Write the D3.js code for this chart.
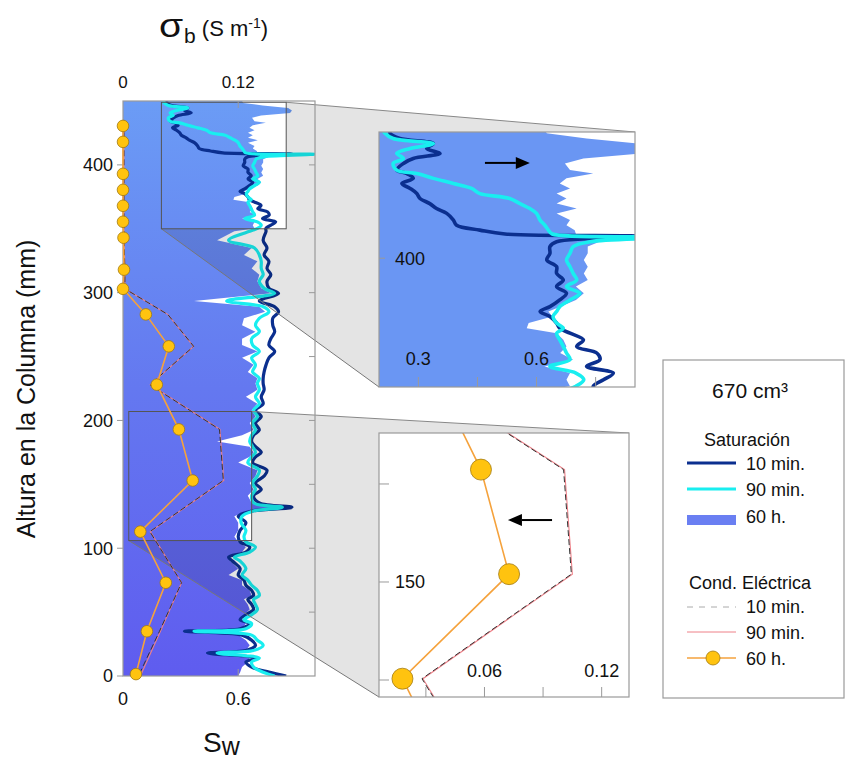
<!DOCTYPE html>
<html>
<head>
<meta charset="utf-8">
<script src="https://cdn.jsdelivr.net/npm/d3@7"></script>
<style>
  body { margin: 0; background: #fff; }
  svg { display: block; }
</style>
</head>
<body>
<svg id="chart" width="845" height="763"></svg>
<script>
// ---- Saturation profiles (depth in mm, Sw fraction) ----
const depthMm = [0,3,7,11,14,18,20,24,28,32,35,37,41,44,48,52,56,60,63,67,71,75,79,84,90,93,97,101,105,109,
  114,120,125,129,132,135.5,141,146,151,156.5,161,167,171.5,175,179.5,183.5,188.5,192.5,198,203,208,213,218.5,224,229,
  233,238,243.5,249,254,259,264,269.5,274.5,280,285,289,293.5,299.5,303.5,309,314,319,324.5,329.5,335,341,348,
  350.3,352.8,355.4,358,360.6,363.2,365.7,368.3,370.9,372.8,374.8,377.4,379.3,381.2,383.8,386.4,389,391.5,394.1,396.7,
  399.3,401.9,404.5,406.4,408.4,409.4,410.9,412.8,414.8,417.4,419.3,421.2,423.2,425.1,427.1,429,431,432.9,434.2,436.8,
  438.7,440.7,442.6,444.5,446.5,448.5,450];

const sw10min = [.85,.76,.67,.64,.69,.44,.64,.69,.67,.62,.32,.61,.66,.61,.64,.68,.67,.65,.68,.67,.64,.63,.60,.61,.57,.55,.64,.66,.61,.60,
  .61,.64,.60,.67,.88,.71,.68,.72,.69,.735,.75,.675,.69,.72,.69,.67,.68,.71,.69,.72,.69,.73,.72,.735,.73,
  .73,.735,.745,.76,.79,.76,.77,.79,.78,.78,.81,.79,.71,.81,.76,.75,.77,.75,.76,.735,.75,.73,.745,
  .744,.77,.795,.727,.761,.753,.702,.719,.685,.659,.651,.634,.609,.634,.659,.676,.651,.668,.651,.651,
  .626,.634,.634,.651,.88,.52,.456,.397,.389,.372,.346,.329,.304,.296,.279,.258,.287,.27,.245,.262,
  .287,.355,.321,.338,.253,.228,.23];

const sw90min = [.79,.73,.68,.67,.71,.49,.68,.73,.70,.67,.37,.64,.67,.63,.67,.70,.69,.68,.71,.70,.67,.65,.62,.64,.61,.58,.66,.69,.64,.63,
  .64,.615,.62,.675,.83,.68,.67,.69,.675,.70,.71,.65,.67,.69,.675,.66,.67,.69,.675,.70,.68,.71,.69,.71,.70,
  .71,.675,.69,.67,.71,.675,.67,.71,.69,.71,.76,.73,.54,.79,.735,.71,.73,.72,.72,.71,.685,.55,.66,
  .70,.72,.70,.634,.685,.676,.668,.659,.651,.668,.651,.642,.651,.659,.685,.71,.676,.702,.693,.685,
  .676,.685,.693,.736,1.0,.64,.63,.621,.609,.60,.583,.558,.532,.456,.435,.389,.338,.296,.245,.236,
  .262,.245,.279,.338,.236,.215,.21];

const sw60h = [.60,.61,.62,.65,.66,.44,.64,.66,.64,.60,.32,.62,.64,.61,.63,.66,.65,.63,.67,.66,.62,.62,.55,.60,.56,.55,.62,.64,.60,.58,
  .60,.60,.58,.64,.80,.67,.65,.68,.66,.69,.70,.60,.66,.68,.66,.49,.62,.68,.66,.69,.67,.70,.64,.70,.69,
  .70,.65,.68,.62,.70,.62,.62,.69,.62,.63,.74,.71,.37,.77,.72,.70,.71,.67,.70,.63,.67,.49,.58,
  .685,.676,.685,.62,.693,.66,.676,.668,.651,.575,.58,.64,.63,.66,.70,.72,.70,.73,.72,.73,
  .72,.73,.73,.76,.80,.70,.697,.676,.685,.651,.702,.651,.676,.651,.685,.659,.676,.744,.685,.672,
  .719,.87,.88,.86,.727,.626,.62];

// ---- Bulk electrical conductivity (depth in mm, sigma_b in S/m) ----
const ecDepthMm = [1.5,35,73,113,153,193,228,258,283,303,318,343,355.5,368,380.5,393,418,430.5];
const ec10min = [0.017,0.038,0.061,0.028,0.1045,0.1005,0.028,0.0736,0.0466,0.002,0.002,0.001,0.001,0.001,0.001,0.001,0.001,0.001];
const ec90min = [0.019,0.039,0.061,0.0285,0.105,0.101,0.0285,0.0735,0.0466,0.002,0.002,0.001,0.001,0.001,0.001,0.001,0.001,0.001];
const ec60h   = [0.0135,0.0249,0.0446,0.018,0.0726,0.0582,0.0352,0.0477,0.0238,0,0.001,0.0005,0,0,0,0,0,0];

// ---- Axis ticks ----
const depthTicks = [0,100,200,300,400];
const depthMinorTicks = [50,100,150,200,250,300,350,400];
const swTicks = [0,0.6];
const ecTicks = [0,0.12];
const zoomSatDepthTicks = [400];
const zoomSatSwTicks = [0.3,0.45,0.6,0.75];
const zoomSatSwLabels = [0.3,0.6];
const zoomEcDepthTicks = [112.5,150,187.5];
const zoomEcDepthLabels = [150];
const zoomEcTicks = [0.03,0.06,0.09,0.12];
const zoomEcLabels = [0.06,0.12];

// trend arrows inside the zoom panels (depth, from, to)
const satArrow = [437, 0.469, 0.583];
const ecArrow = [173.7, 0.0946, 0.072];

const FONT = "'Liberation Sans', Arial, Helvetica, sans-serif";
const NAVY = "#0b2f8f", CYAN = "#19eef0", PINK = "#ee8088", DASH = "#333", ORANGE = "#f5a23c", GOLD = "#ffc30f";

const svg = d3.select("#chart").attr("font-family", FONT);
const defs = svg.append("defs");

// ---- panel geometry ----
const M = {left:123, right:315, top:101, bottom:676};
const y = d3.scaleLinear().domain([0,450]).range([M.bottom, M.top]);
const xSw = d3.scaleLinear().domain([0,1]).range([M.left, M.right]);
const xEc = d3.scaleLinear().domain([0,0.2]).range([M.left, M.right]);

const Z1 = {left:379, right:635, top:132, bottom:387};
const z1x = d3.scaleLinear().domain([0.2,0.85]).range([Z1.left, Z1.right]);
const z1y = d3.scaleLinear().domain([350,449]).range([Z1.bottom, Z1.top]);

const Z2 = {left:379, right:629, top:433, bottom:697};
const z2x = d3.scaleLinear().domain([0.006,0.134]).range([Z2.left, Z2.right]);
const z2y = d3.scaleLinear().domain([106,207]).range([Z2.bottom, Z2.top]);

// gradient for the 60 h saturation fill
const grad = defs.append("linearGradient").attr("id","fill60")
  .attr("gradientUnits","userSpaceOnUse").attr("x1",0).attr("x2",0)
  .attr("y1",M.top).attr("y2",M.bottom);
grad.append("stop").attr("offset",0).attr("stop-color","#6b9cf5");
grad.append("stop").attr("offset",0.5).attr("stop-color","#6478f0");
grad.append("stop").attr("offset",1).attr("stop-color","#5f5cef");

function clip(id, r) {
  defs.append("clipPath").attr("id", id).append("rect")
    .attr("x", r.left).attr("y", r.top).attr("width", r.right - r.left).attr("height", r.bottom - r.top);
}
clip("clipMain", M); clip("clipZ1", Z1); clip("clipZ2", Z2);

const satRows = depthMm.map((d,i) => ({d, s10: sw10min[i], s90: sw90min[i], s60: sw60h[i]}));
const ecRows = ecDepthMm.map((d,i) => ({d, e10: ec10min[i], e90: ec90min[i], e60: ec60h[i]}));

const satLine = (xs, ys, key) => d3.line().x(r => xs(r[key])).y(r => ys(r.d)).curve(d3.curveCatmullRom.alpha(0.5));
const satArea = (xs, ys) => d3.area().y(r => ys(r.d)).x0(xs.range()[0]).x1(r => xs(r.s60));
const ecLine = (xs, ys, key) => d3.line().x(r => xs(r[key])).y(r => ys(r.d));

// ---- main panel: 60 h fill ----
const gMain = svg.append("g");
gMain.append("path").datum(satRows).attr("clip-path","url(#clipMain)")
  .attr("d", satArea(xSw, y)).attr("fill","url(#fill60)");

// ---- zoom funnels ----
function funnel(sx0, sx1, sy0, sy1, Z) {
  const pts = [[sx1, sy0],[Z.right, Z.top],[Z.right, Z.bottom],[Z.left, Z.bottom],[sx0, sy1],[sx1, sy1]];
  svg.append("polygon").attr("points", pts.map(p => p.join(",")).join(" "))
    .attr("fill","rgba(0,0,0,0.105)");
  svg.append("line").attr("x1",sx1).attr("y1",sy0).attr("x2",Z.right).attr("y2",Z.top).attr("stroke","#888").attr("stroke-width",1);
  svg.append("line").attr("x1",sx0).attr("y1",sy1).attr("x2",Z.left).attr("y2",Z.bottom).attr("stroke","#777").attr("stroke-width",1);
  svg.append("rect").attr("x",sx0).attr("y",sy0).attr("width",sx1-sx0).attr("height",sy1-sy0)
    .attr("fill","none").attr("stroke","#555").attr("stroke-width",1);
}
funnel(xSw(z1x.domain()[0]), xSw(z1x.domain()[1]), y(z1y.domain()[1]), y(z1y.domain()[0]), Z1);
funnel(xEc(z2x.domain()[0]), xEc(z2x.domain()[1]), y(z2y.domain()[1]), y(z2y.domain()[0]), Z2);

// ---- main frame & ticks ----
svg.append("rect").attr("x",M.left).attr("y",M.top).attr("width",M.right-M.left).attr("height",M.bottom-M.top)
  .attr("fill","none").attr("stroke","#9a9a9a").attr("stroke-width",1.2);
const ticks = svg.append("g").attr("stroke","#9a9a9a").attr("stroke-width",1);
depthTicks.forEach(t => ticks.append("line").attr("x1",M.left-6).attr("x2",M.left).attr("y1",y(t)).attr("y2",y(t)));
depthMinorTicks.forEach(t => ticks.append("line").attr("x1",M.right-6).attr("x2",M.right).attr("y1",y(t)).attr("y2",y(t)));
swTicks.slice(1).forEach(t => ticks.append("line").attr("x1",xSw(t)).attr("x2",xSw(t)).attr("y1",M.bottom).attr("y2",M.bottom-7));
ecTicks.slice(1).forEach(t => ticks.append("line").attr("x1",xEc(t)).attr("x2",xEc(t)).attr("y1",M.top).attr("y2",M.top+7));

// ---- main saturation lines ----
gMain.append("path").datum(satRows).attr("clip-path","url(#clipMain)").attr("d", satLine(xSw, y, "s10"))
  .attr("fill","none").attr("stroke",NAVY).attr("stroke-width",3.2).attr("stroke-linejoin","round");
gMain.append("path").datum(satRows).attr("clip-path","url(#clipMain)").attr("d", satLine(xSw, y, "s90"))
  .attr("fill","none").attr("stroke",CYAN).attr("stroke-width",3.2).attr("stroke-linejoin","round");

// ---- EC profiles ----
function drawEc(g, xs, ys, r) {
  g.append("path").datum(ecRows).attr("d", ecLine(xs, ys, "e90")).attr("fill","none").attr("stroke",PINK).attr("stroke-width",1.1);
  g.append("path").datum(ecRows).attr("d", ecLine(xs, ys, "e10")).attr("fill","none").attr("stroke",DASH)
    .attr("stroke-width",1).attr("stroke-dasharray","6,3");
  g.append("path").datum(ecRows).attr("d", ecLine(xs, ys, "e60")).attr("fill","none").attr("stroke",ORANGE).attr("stroke-width",1.6);
  g.selectAll("circle.e60").data(ecRows).enter().append("circle").attr("class","e60")
    .attr("cx", d => xs(d.e60)).attr("cy", d => ys(d.d)).attr("r", r)
    .attr("fill",GOLD).attr("stroke","#a27a10").attr("stroke-width",0.8);
}
drawEc(svg.append("g"), xEc, y, 5.8);

// ---- main axis labels ----
const lab = svg.append("g").attr("fill","#111");
depthTicks.forEach(t => lab.append("text").attr("x",M.left-10).attr("y",y(t)).attr("dy","0.35em")
  .attr("text-anchor","end").attr("font-size",18).text(t));
swTicks.forEach(t => lab.append("text").attr("x",xSw(t)).attr("y",705).attr("text-anchor","middle").attr("font-size",18).text(t));
ecTicks.forEach(t => lab.append("text").attr("x",xEc(t)).attr("y",88).attr("text-anchor","middle").attr("font-size",17).text(t));

lab.append("text").attr("transform","translate(35,389) rotate(-90)").attr("text-anchor","middle")
  .attr("font-size",25).text("Altura en la Columna (mm)");

const swTitle = lab.append("text").attr("x",203).attr("y",752).attr("font-size",28);
swTitle.append("tspan").text("S");
swTitle.append("tspan").attr("dy",3).attr("font-size",25).text("w");

lab.append("text").attr("transform","translate(159,37) scale(1.15,1)").attr("font-size",34).text("σ");
const ecTitle = lab.append("text").attr("x",184).attr("y",43).attr("font-size",21);
ecTitle.append("tspan").text("b");
ecTitle.append("tspan").attr("dy",-7).attr("font-size",22).text(" (S m");
ecTitle.append("tspan").attr("dy",-8).attr("font-size",14).text("-1");
ecTitle.append("tspan").attr("dy",8).attr("font-size",22).text(")");

// ---- arrow helper ----
function arrow(g, x0, x1, yy) {
  const dir = Math.sign(x1 - x0), head = 14;
  g.append("line").attr("x1",x0).attr("x2",x1 - dir*head).attr("y1",yy).attr("y2",yy).attr("stroke","#000").attr("stroke-width",2);
  g.append("path").attr("d",`M${x1},${yy} L${x1-dir*head},${yy-6} L${x1-dir*head},${yy+6} Z`).attr("fill","#000");
}

// ---- zoom panel 1: saturation ----
const g1 = svg.append("g");
g1.append("rect").attr("x",Z1.left).attr("y",Z1.top).attr("width",Z1.right-Z1.left).attr("height",Z1.bottom-Z1.top).attr("fill","#fff");
g1.append("path").datum(satRows).attr("clip-path","url(#clipZ1)").attr("d", satArea(z1x, z1y)).attr("fill","#6a96f3");
g1.append("path").datum(satRows).attr("clip-path","url(#clipZ1)").attr("d", satLine(z1x, z1y, "s10"))
  .attr("fill","none").attr("stroke",NAVY).attr("stroke-width",3.6).attr("stroke-linejoin","round");
g1.append("path").datum(satRows).attr("clip-path","url(#clipZ1)").attr("d", satLine(z1x, z1y, "s90"))
  .attr("fill","none").attr("stroke",CYAN).attr("stroke-width",3.6).attr("stroke-linejoin","round");
arrow(g1, z1x(satArrow[1]), z1x(satArrow[2]), z1y(satArrow[0]));
const t1 = g1.append("g").attr("stroke","#9a9a9a");
zoomSatSwTicks.forEach(t => t1.append("line").attr("x1",z1x(t)).attr("x2",z1x(t)).attr("y1",Z1.bottom).attr("y2",Z1.bottom-10));
zoomSatDepthTicks.forEach(t => t1.append("line").attr("x1",Z1.left).attr("x2",Z1.left+6).attr("y1",z1y(t)).attr("y2",z1y(t)));
zoomSatSwLabels.forEach(t => g1.append("text").attr("x",z1x(t)).attr("y",365).attr("text-anchor","middle").attr("font-size",18).attr("fill","#111").text(t));
zoomSatDepthTicks.forEach(t => g1.append("text").attr("x",395).attr("y",z1y(t)).attr("dy","0.35em").attr("font-size",18).attr("fill","#111").text(t));
g1.append("rect").attr("x",Z1.left).attr("y",Z1.top).attr("width",Z1.right-Z1.left).attr("height",Z1.bottom-Z1.top)
  .attr("fill","none").attr("stroke","#9a9a9a").attr("stroke-width",1.2);

// ---- zoom panel 2: conductivity ----
const g2 = svg.append("g");
g2.append("rect").attr("x",Z2.left).attr("y",Z2.top).attr("width",Z2.right-Z2.left).attr("height",Z2.bottom-Z2.top).attr("fill","#fff");
drawEc(g2.append("g").attr("clip-path","url(#clipZ2)"), z2x, z2y, 10.5);
arrow(g2, z2x(ecArrow[1]), z2x(ecArrow[2]), z2y(ecArrow[0]));
const t2 = g2.append("g").attr("stroke","#9a9a9a");
zoomEcTicks.forEach(t => t2.append("line").attr("x1",z2x(t)).attr("x2",z2x(t)).attr("y1",Z2.bottom).attr("y2",Z2.bottom-10));
zoomEcDepthTicks.forEach(t => t2.append("line").attr("x1",Z2.left).attr("x2",Z2.left+10).attr("y1",z2y(t)).attr("y2",z2y(t)));
zoomEcLabels.forEach(t => g2.append("text").attr("x",z2x(t)).attr("y",677).attr("text-anchor","middle").attr("font-size",18).attr("fill","#111").text(t));
zoomEcDepthLabels.forEach(t => g2.append("text").attr("x",395).attr("y",z2y(t)).attr("dy","0.35em").attr("font-size",18).attr("fill","#111").text(t));
g2.append("rect").attr("x",Z2.left).attr("y",Z2.top).attr("width",Z2.right-Z2.left).attr("height",Z2.bottom-Z2.top)
  .attr("fill","none").attr("stroke","#9a9a9a").attr("stroke-width",1.2);

// ---- legend ----
const L = svg.append("g").attr("fill","#111");
L.append("rect").attr("x",663).attr("y",360).attr("width",181).attr("height",338)
  .attr("fill","#fff").attr("stroke","#9a9a9a").attr("stroke-width",1.2);
L.append("text").attr("x",750).attr("y",398).attr("text-anchor","middle").attr("font-size",21).text("670 cm³");
L.append("text").attr("x",747).attr("y",446).attr("text-anchor","middle").attr("font-size",18).text("Saturación");
const lx0 = 687, lx1 = 736, tx = 746;
L.append("line").attr("x1",lx0).attr("x2",lx1).attr("y1",463).attr("y2",463).attr("stroke",NAVY).attr("stroke-width",3);
L.append("text").attr("x",tx).attr("y",470).attr("font-size",18).text("10 min.");
L.append("line").attr("x1",lx0).attr("x2",lx1).attr("y1",489).attr("y2",489).attr("stroke",CYAN).attr("stroke-width",3);
L.append("text").attr("x",tx).attr("y",496).attr("font-size",18).text("90 min.");
L.append("rect").attr("x",lx0).attr("y",515).attr("width",lx1-lx0).attr("height",10).attr("fill","#6a7ff2");
L.append("text").attr("x",tx).attr("y",523).attr("font-size",18).text("60 h.");
L.append("text").attr("x",750).attr("y",589).attr("text-anchor","middle").attr("font-size",18).text("Cond. Eléctrica");
L.append("line").attr("x1",lx0).attr("x2",lx1).attr("y1",607).attr("y2",607).attr("stroke","#aaa").attr("stroke-width",1).attr("stroke-dasharray","6,6");
L.append("text").attr("x",tx).attr("y",613).attr("font-size",18).text("10 min.");
L.append("line").attr("x1",lx0).attr("x2",lx1).attr("y1",632).attr("y2",632).attr("stroke",PINK).attr("stroke-width",1);
L.append("text").attr("x",tx).attr("y",639).attr("font-size",18).text("90 min.");
L.append("line").attr("x1",lx0).attr("x2",lx1).attr("y1",658).attr("y2",658).attr("stroke",ORANGE).attr("stroke-width",1.6);
L.append("circle").attr("cx",713).attr("cy",658).attr("r",7).attr("fill",GOLD).attr("stroke","#a27a10").attr("stroke-width",0.8);
L.append("text").attr("x",tx).attr("y",665).attr("font-size",18).text("60 h.");
</script>
</body>
</html>
